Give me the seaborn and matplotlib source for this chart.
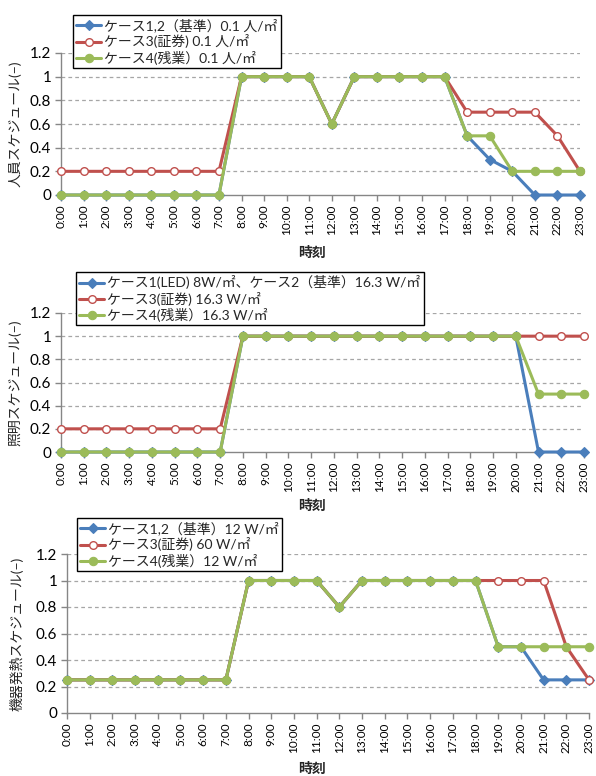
import matplotlib
matplotlib.use("Agg")
import matplotlib.pyplot as plt
import seaborn as sns
import numpy as np
import pandas as pd

sns.set_style("white")
plt.rcParams["font.family"] = ["Lato", "Noto Sans CJK JP", "DejaVu Sans"]

hours = list(range(24))
hour_labels = [f"{h}:00" for h in hours]
y_ticks = [0, 0.2, 0.4, 0.6, 0.8, 1.0, 1.2]
y_tick_labels = ["0", "0.2", "0.4", "0.6", "0.8", "1", "1.2"]

# occupancy schedule
occ_base = [0, 0, 0, 0, 0, 0, 0, 0, 1, 1, 1, 1, 0.6, 1, 1, 1, 1, 1, 0.5, 0.3, 0.2, 0, 0, 0]
occ_sec = [0.2, 0.2, 0.2, 0.2, 0.2, 0.2, 0.2, 0.2, 1, 1, 1, 1, 0.6, 1, 1, 1, 1, 1, 0.7, 0.7, 0.7, 0.7, 0.5, 0.2]
occ_ot = [0, 0, 0, 0, 0, 0, 0, 0, 1, 1, 1, 1, 0.6, 1, 1, 1, 1, 1, 0.5, 0.5, 0.2, 0.2, 0.2, 0.2]
occ_names = ["ケース1,2（基準）0.1 人/㎡", "ケース3(証券) 0.1 人/㎡", "ケース4(残業）0.1 人/㎡"]

# lighting schedule
lit_base = [0, 0, 0, 0, 0, 0, 0, 0, 1, 1, 1, 1, 1, 1, 1, 1, 1, 1, 1, 1, 1, 0, 0, 0]
lit_sec = [0.2, 0.2, 0.2, 0.2, 0.2, 0.2, 0.2, 0.2, 1, 1, 1, 1, 1, 1, 1, 1, 1, 1, 1, 1, 1, 1, 1, 1]
lit_ot = [0, 0, 0, 0, 0, 0, 0, 0, 1, 1, 1, 1, 1, 1, 1, 1, 1, 1, 1, 1, 1, 0.5, 0.5, 0.5]
lit_names = ["ケース1(LED) 8W/㎡、ケース2（基準）16.3 W/㎡", "ケース3(証券) 16.3 W/㎡", "ケース4(残業）16.3 W/㎡"]

# equipment heat schedule
eq_base = [0.25] * 8 + [1, 1, 1, 1, 0.8, 1, 1, 1, 1, 1, 1, 0.5, 0.5, 0.25, 0.25, 0.25]
eq_sec = [0.25] * 8 + [1, 1, 1, 1, 0.8, 1, 1, 1, 1, 1, 1, 1, 1, 1, 0.5, 0.25]
eq_ot = [0.25] * 8 + [1, 1, 1, 1, 0.8, 1, 1, 1, 1, 1, 1, 0.5, 0.5, 0.5, 0.5, 0.5]
eq_names = ["ケース1,2（基準）12 W/㎡", "ケース3(証券) 60 W/㎡", "ケース4(残業）12 W/㎡"]

BLUE = "#4A7EBB"
RED = "#C0504D"
GREEN = "#9BBB59"
AXIS = "#868686"
W, H = 596, 776

fig = plt.figure(figsize=(W / 100, H / 100), dpi=100)


def fx(px):
    return px / W


def fy(py):
    return 1 - py / H


panels = [
    dict(rect=(61, 53, 580, 195), series=(occ_base, occ_sec, occ_ot), names=occ_names,
         ylabel="人員スケジュール(−)", ylab_x=15, xlab_y=252, leg=(73, 15)),
    dict(rect=(61, 313, 584, 452), series=(lit_base, lit_sec, lit_ot), names=lit_names,
         ylabel="照明スケジュール(−)", ylab_x=15, xlab_y=505, leg=(76, 272)),
    dict(rect=(67, 554, 589, 713), series=(eq_base, eq_sec, eq_ot), names=eq_names,
         ylabel="機器発熱スケジュール(−)", ylab_x=17, xlab_y=768, leg=(77, 518)),
]

for p in panels:
    x0, y0, x1, y1 = p["rect"]
    ax = fig.add_axes([fx(x0), fy(y1), (x1 - x0) / W, (y1 - y0) / H])
    base, sec, ot = p["series"]
    df = pd.DataFrame({"hour": hours, "base": base, "sec": sec, "ot": ot})

    sns.lineplot(data=df, x="hour", y="base", ax=ax, color=BLUE, linewidth=2.2,
                 marker="D", markersize=5, markerfacecolor=BLUE, markeredgecolor=BLUE,
                 markeredgewidth=0.8, clip_on=False, zorder=3)
    sns.lineplot(data=df, x="hour", y="sec", ax=ax, color=RED, linewidth=2.2,
                 marker="o", markersize=5.5, markerfacecolor="white", markeredgecolor=RED,
                 markeredgewidth=1.0, clip_on=False, zorder=4)
    sns.lineplot(data=df, x="hour", y="ot", ax=ax, color=GREEN, linewidth=2.2,
                 marker="o", markersize=6, markerfacecolor=GREEN, markeredgecolor=GREEN,
                 markeredgewidth=0.8, clip_on=False, zorder=5)

    ax.set_xlim(0, 23)
    ax.set_ylim(0, 1.2)
    ax.set_xticks(hours)
    ax.set_xticklabels(hour_labels, rotation=90, fontsize=8.5)
    ax.set_yticks(y_ticks)
    ax.set_yticklabels(y_tick_labels, fontsize=11)
    ax.set_xlabel("")
    ax.set_ylabel("")

    for yv in y_ticks[1:]:
        ax.axhline(yv, color="#A6A6A6", linewidth=0.9, linestyle=(0, (3, 2.5)), zorder=1)

    for side in ("top", "right"):
        ax.spines[side].set_visible(False)
    for side in ("left", "bottom"):
        ax.spines[side].set_color(AXIS)
        ax.spines[side].set_linewidth(1.0)
    ax.tick_params(axis="both", which="major", length=4, width=1.0, color=AXIS,
                   direction="out", pad=3, labelcolor="black")
    ax.tick_params(axis="x", bottom=True)
    ax.tick_params(axis="y", left=True)

    lines = ax.lines[:3]
    ax.legend(lines, p["names"], loc="upper left",
              bbox_to_anchor=(fx(p["leg"][0]), fy(p["leg"][1])),
              bbox_transform=fig.transFigure, fontsize=10, frameon=True,
              fancybox=False, edgecolor="black", framealpha=1, borderpad=0.25,
              labelspacing=0.15, handlelength=1.8, handletextpad=0.2,
              borderaxespad=0).get_frame().set_linewidth(1.0)

    fig.text(fx(p["ylab_x"]), fy((y0 + y1) / 2), p["ylabel"], rotation=90,
             ha="center", va="center", fontsize=10)
    fig.text(fx(312), fy(p["xlab_y"]), "時刻", ha="center", va="center",
             fontsize=10, fontweight="bold")

fig.savefig("out.png", dpi=100)
